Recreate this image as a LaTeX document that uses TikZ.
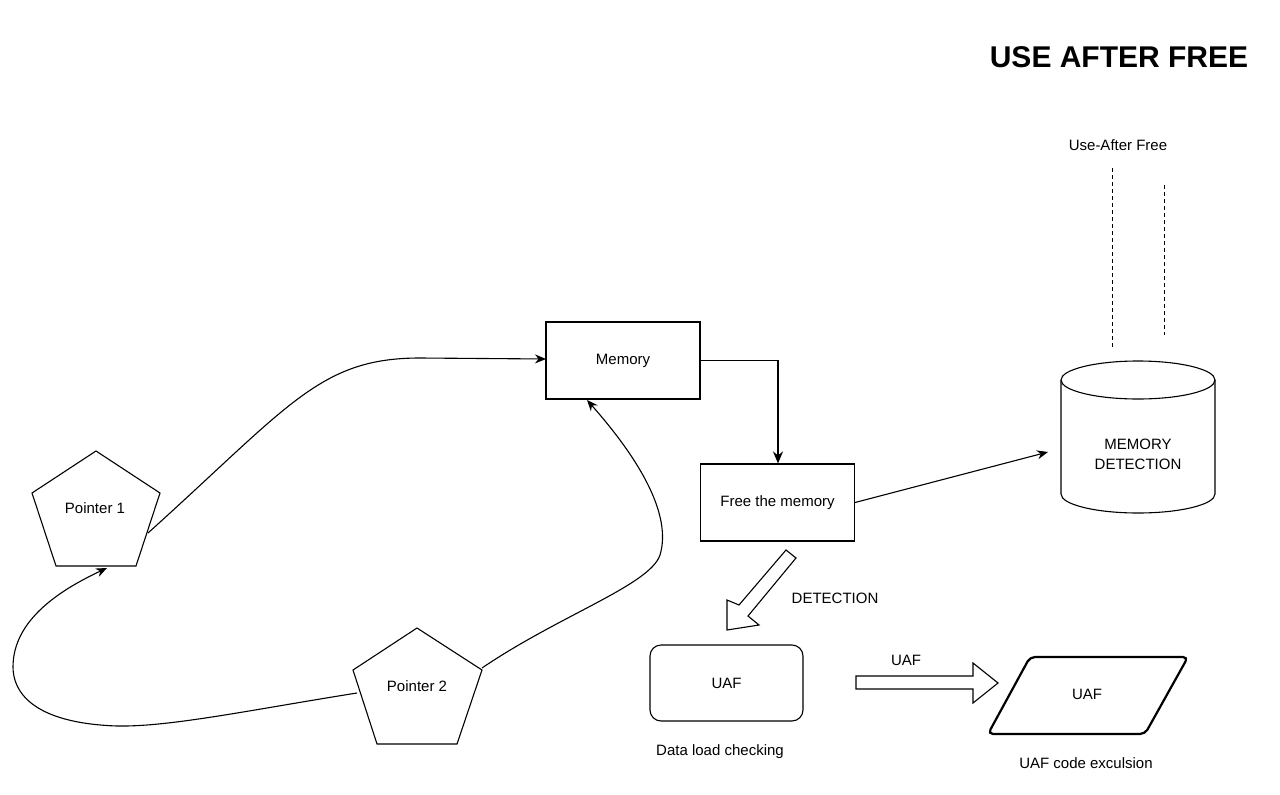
\documentclass[tikz,border=0pt]{standalone}
\usepackage{fontspec}
\setmainfont{Liberation Sans}
\usetikzlibrary{arrows.meta}
\begin{document}
\begin{tikzpicture}[x=1pt,y=-1pt,
  every node/.style={font=\fontsize{15}{20}\selectfont, inner sep=0pt},
  box/.style={draw, line width=1.1pt, minimum width=154pt, minimum height=77pt},
  conn/.style={line width=1.1pt, -{Stealth[length=11pt,width=9pt]}},
  shapeline/.style={line width=1.1pt},
  dashline/.style={line width=0.9pt, dash pattern=on 4pt off 3pt}
]
\useasboundingbox (0,0) rectangle (1280,795);
\fill[white] (0,0) rectangle (1280,795);

% title
\node[font=\fontsize{30}{36}\selectfont\bfseries] (title) at (1119,57) {USE AFTER FREE};

% memory boxes
\node[box] (mem) at (623,360.5) {Memory};
\node[box] (free) at (777.5,502.5) {Free the memory};

% pointer pentagons
\coordinate (p1t) at (96,451);
\coordinate (p1l) at (32,493);
\coordinate (p1r) at (160,493);
\coordinate (p1bl) at (56,566);
\coordinate (p1br) at (136,566);
\draw[shapeline] (p1t) -- (p1r) -- (p1br) -- (p1bl) -- (p1l) -- cycle;
\node (p1) at (95,508) {Pointer 1};

\coordinate (p2t) at (417,628);
\coordinate (p2l) at (353,670);
\coordinate (p2r) at (482,670);
\coordinate (p2bl) at (377,744);
\coordinate (p2br) at (457,744);
\draw[shapeline] (p2t) -- (p2r) -- (p2br) -- (p2bl) -- (p2l) -- cycle;
\node (p2) at (417,686) {Pointer 2};

% connector anchors
\coordinate (p1out) at (148,533);
\coordinate (p1in) at (107,568);
\coordinate (p2outL) at (357,693);
\coordinate (p2outR) at (482,668);
\coordinate (memIn) at (546,359);
\coordinate (memBot) at (587,400);

% curved connectors
\draw[conn] (p1out) .. controls (290,405) and (320,358) .. (420,358) -- (memIn);
\draw[conn] (p2outL) .. controls (250,710) and (170,727) .. (117,726)
   .. controls (30,723) and (13,690) .. (13,667)
   .. controls (13,620) and (60,590) .. (p1in);
\draw[conn] (p2outR) .. controls (560,615) and (650,585) .. (660,555)
   .. controls (672,515) and (640,460) .. (memBot);

% memory -> free
\draw[line width=1.8pt, -{Stealth[length=12pt,width=10pt]}] (mem.east) -- (778,360.5) -- (free.north -| 778,0);

% cylinder
\draw[shapeline] (1138,380) ellipse [x radius=77pt, y radius=19pt];
\draw[shapeline] (1061,380) -- (1061,494) arc[start angle=180, end angle=360, x radius=77pt, y radius=19pt] -- (1215,380);
\node[align=center] (cyl) at (1138,454) {MEMORY\\DETECTION};
\coordinate (cylIn) at (1048,452);
\draw[conn] (free.east) -- (cylIn);

% dashed lines
\node (uaftxt) at (1118,145) {Use-After Free};
\draw[dashline] (1112,168) -- (1112,348);
\draw[dashline] (1164,185) -- (1164,335);

% DETECTION block arrow
\draw[shapeline, fill=white] (786,550) -- (796,558) -- (748,616) -- (759,625) -- (727,630) -- (727,600) -- (739,605) -- cycle;
\node (det) at (835,598) {DETECTION};

% UAF rounded box
\node[draw, line width=1.1pt, rounded corners=11pt, minimum width=153pt, minimum height=76pt] (uaf1) at (726.5,683) {UAF};
\node (dlc) at (720,752) {Data load checking};

% UAF block arrow
\draw[shapeline, fill=white] (856,676) -- (973,676) -- (973,663) -- (998,683) -- (973,703) -- (973,689) -- (856,689) -- cycle;
\node (uaflbl) at (906,660) {UAF};

% parallelogram
\draw[line width=2.2pt, rounded corners=5pt] (1066,734) -- (1145,734) -- (1188,657) -- (1030,657) -- (988,734) -- cycle;
\node (uaf2) at (1087,694) {UAF};
\node (uce) at (1086,763) {UAF code exculsion};
\end{tikzpicture}
\end{document}
